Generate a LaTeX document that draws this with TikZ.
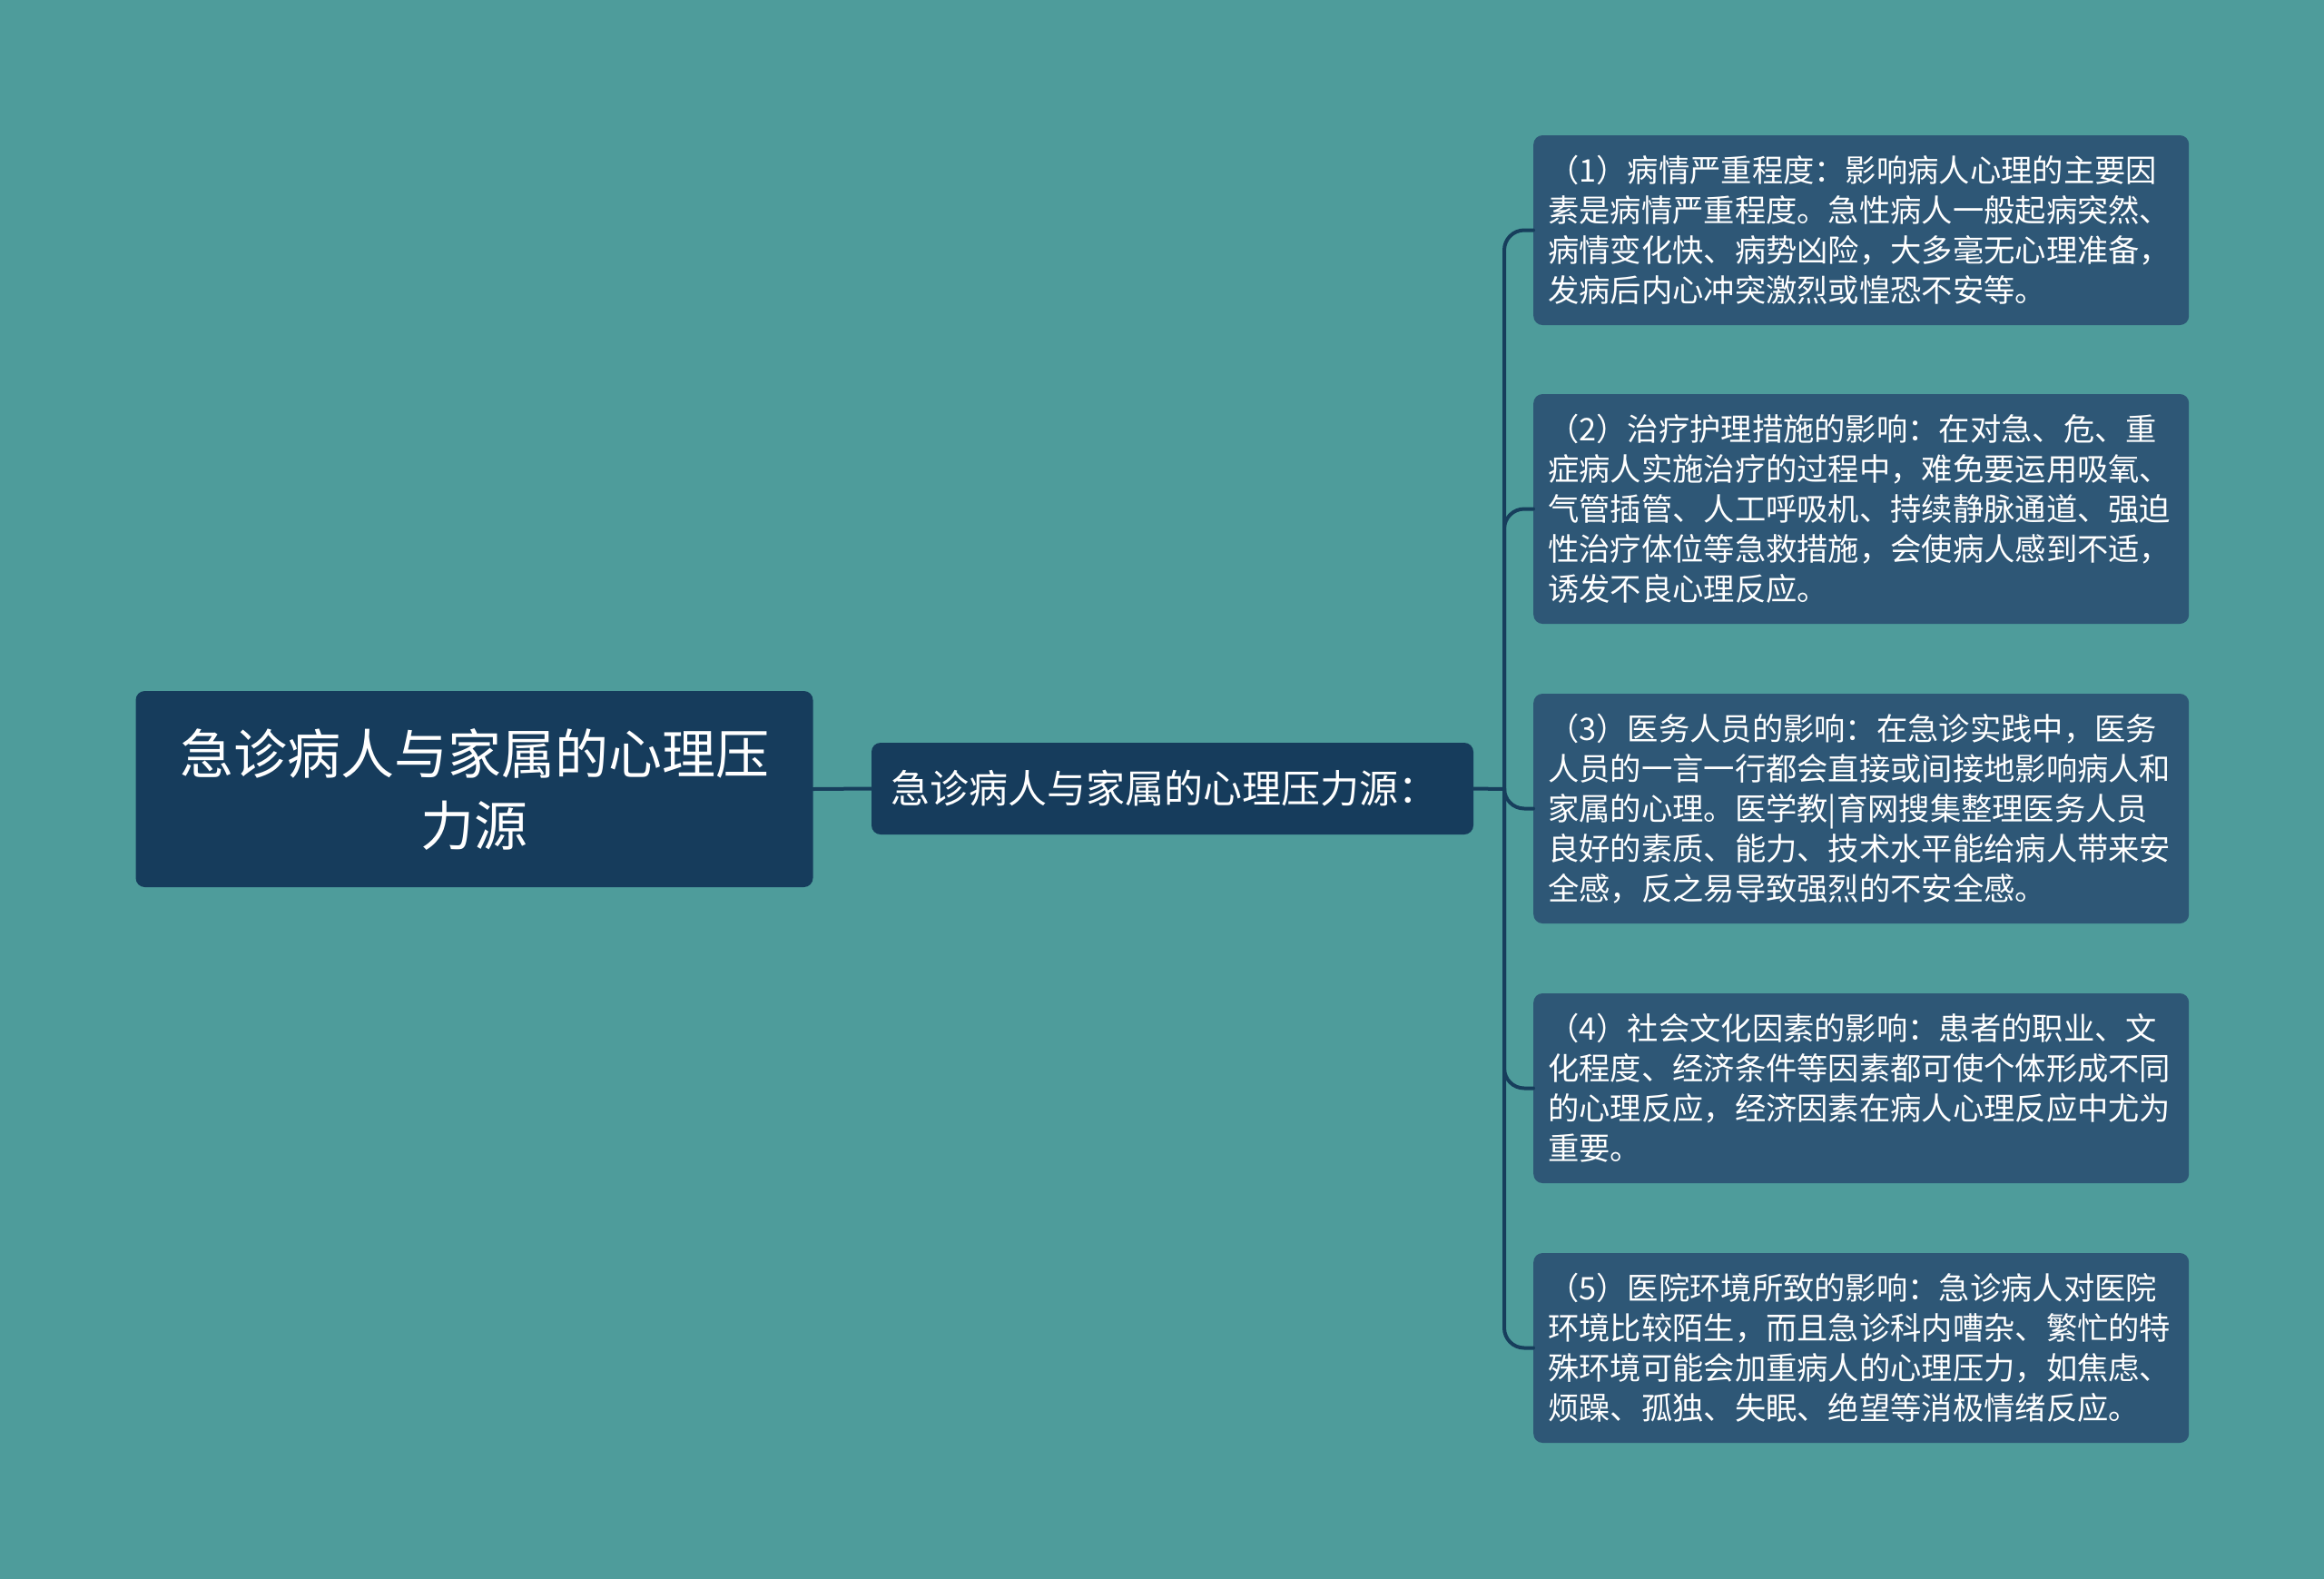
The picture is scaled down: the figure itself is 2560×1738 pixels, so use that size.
\documentclass[tikz,border=0pt]{standalone}
\usepackage{fontspec}
\setmainfont{Noto Sans CJK SC}
\definecolor{bgc}{RGB}{78,156,155}
\definecolor{rootc}{RGB}{22,60,92}
\definecolor{leafc}{RGB}{46,87,118}
\definecolor{linkc}{RGB}{23,62,92}
\XeTeXinterchartoks 1 1 = {\hskip0pt plus 1pt}
\XeTeXinterchartoks 1 2 = {\hskip0pt plus 1pt}
\XeTeXinterchartoks 1 3 = {\hskip0pt plus 1pt}
\XeTeXinterchartoks 2 1 = {\hskip0pt plus 1pt}
\XeTeXinterchartoks 3 1 = {\hskip0pt plus 1pt}
\XeTeXinterchartoks 3 2 = {\hskip0pt plus 1pt}
\XeTeXinterchartoks 3 3 = {\hskip0pt plus 1pt}
\XeTeXinterchartoks 2 0 = {\hskip0pt plus 1pt}
\XeTeXinterchartoks 0 3 = {\hskip0pt plus 1pt}
\newcommand\fline[1]{\makebox[686pt][s]{\XeTeXinterchartokenstate=1 #1}}
\tikzset{
 rootbox/.style={fill=rootc,rounded corners=10pt,text=white,align=center,inner sep=0pt},
 leafbox/.style={fill=leafc,rounded corners=10pt,text=white,align=left,anchor=west,
   minimum width=722pt,text width=690pt,inner xsep=16pt,inner ysep=0pt,
   font=\fontsize{34.3}{44}\selectfont},
 link/.style={draw=linkc,line width=4pt}
}
\begin{document}
\begin{tikzpicture}[x=1pt,y=-1pt,line join=round,line cap=round]
 \useasboundingbox (0,0) rectangle (2560,1738);
 \fill[bgc] (-4,-4) rectangle (2564,1742);
 \node[rootbox,minimum width=746pt,minimum height=216pt,font=\fontsize{59}{79}\selectfont] (root) at (522.5,869) {急诊病人与家属的心理压\\力源};
 \node[rootbox,minimum height=101pt,text width=621pt,inner xsep=21pt,align=left,font=\fontsize{43}{52}\selectfont] (sub) at (1291.5,868.5) {急诊病人与家属的心理压力源：};
 \node[leafbox,minimum height=209pt] (f1) at (1689,253.5) {\fline{（1）病情严重程度：影响病人心理的主要因}\\素是病情严重程度。急性病人一般起病突然、\\病情变化快、病势凶险，大多毫无心理准备，\\发病后内心冲突激烈或惶恐不安等。};
 \node[leafbox,minimum height=253pt] (f2) at (1689,560.5) {\fline{（2）治疗护理措施的影响：在对急、危、重}\\症病人实施治疗的过程中，难免要运用吸氧、\\气管插管、人工呼吸机、持续静脉通道、强迫\\性治疗体位等急救措施，会使病人感到不适，\\诱发不良心理反应。};
 \node[leafbox,minimum height=253pt] (f3) at (1689,890.5) {\fline{（3）医务人员的影响：在急诊实践中，医务}\\人员的一言一行都会直接或间接地影响病人和\\家属的心理。医学教|育网搜集整理医务人员\\良好的素质、能力、技术水平能给病人带来安\\全感，反之易导致强烈的不安全感。};
 \node[leafbox,minimum height=209pt] (f4) at (1689,1198.5) {\fline{（4）社会文化因素的影响：患者的职业、文}\\化程度、经济条件等因素都可使个体形成不同\\的心理反应，经济因素在病人心理反应中尤为\\重要。};
 \node[leafbox,minimum height=209pt] (f5) at (1689,1484.5) {\fline{（5）医院环境所致的影响：急诊病人对医院}\\环境比较陌生，而且急诊科内嘈杂、繁忙的特\\殊环境可能会加重病人的心理压力，如焦虑、\\烦躁、孤独、失眠、绝望等消极情绪反应。};
 \coordinate (hub) at (1657,869);
 \draw[link] (root.east) -- (sub.west);
 \draw[link] (sub.east) -- (hub);
 \foreach \i in {1,...,5}
  \draw[link,rounded corners=22pt] (hub) |- (f\i.west);
\end{tikzpicture}
\end{document}
